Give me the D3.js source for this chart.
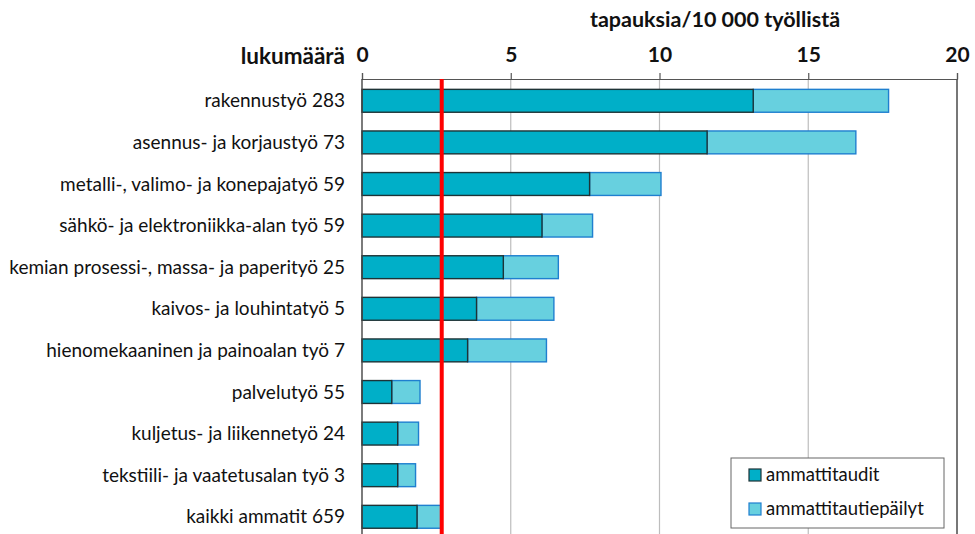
<!DOCTYPE html>
<html>
<head>
<meta charset="utf-8">
<script src="https://cdn.jsdelivr.net/npm/d3@7/dist/d3.min.js"></script>
<style>
  html, body { margin: 0; padding: 0; background: #fff; }
  svg { display: block; font-family: Lato, "Open Sans", sans-serif; }
</style>
</head>
<body>
<svg id="chart" width="975" height="534"></svg>
<script>
// Occupation groups and number of cases
const occupations = [
  "rakennustyö", "asennus- ja korjaustyö", "metalli-, valimo- ja konepajatyö",
  "sähkö- ja elektroniikka-alan työ", "kemian prosessi-, massa- ja paperityö",
  "kaivos- ja louhintatyö", "hienomekaaninen ja painoalan työ", "palvelutyö",
  "kuljetus- ja liikennetyö", "tekstiili- ja vaatetusalan työ", "kaikki ammatit"
];
const counts = [283, 73, 59, 59, 25, 5, 7, 55, 24, 3, 659];

// Cases per 10 000 employed
const ammattitaudit =       [13.15, 11.6, 7.65, 6.05, 4.75, 3.85, 3.55, 1.0, 1.2, 1.2, 1.85];
const ammattitautiepailyt = [4.55, 5.0, 2.4, 1.7, 1.85, 2.6, 2.65, 0.95, 0.7, 0.6, 0.83];

const seriesNames = ["ammattitaudit", "ammattitautiepäilyt"];
const xTicks = [0, 5, 10, 15, 20];
const referenceValue = 2.68; // all occupations total
const axisTitle = "tapauksia/10 000 työllistä";
const countTitle = "lukumäärä";

const fills = ["#00AFC8", "#67D0DF"];
const strokes = ["#1d3336", "#1f7fcf"];

const svg = d3.select("#chart");
const plotLeft = 362, plotRight = 957, plotTop = 79, plotBottom = 534;

const x = d3.scaleLinear().domain([0, 20]).range([plotLeft, plotRight]);
const y = d3.scaleBand()
  .domain(d3.range(occupations.length))
  .range([80, 80 + 41.6 * occupations.length])
  .paddingInner(0.45)
  .paddingOuter(0.225);

// vertical gridlines
svg.append("g")
  .selectAll("line")
  .data(xTicks.slice(1))
  .join("line")
  .attr("x1", d => x(d)).attr("x2", d => x(d))
  .attr("y1", plotTop).attr("y2", plotBottom)
  .attr("stroke", d => d === 20 ? "#555" : "#bdbdbd")
  .attr("stroke-width", d => d === 20 ? 1.6 : 1.2);

// top axis
const xAxis = d3.axisTop(x).tickValues(xTicks).tickSize(6).tickPadding(11);
const gx = svg.append("g").attr("transform", `translate(0,${plotTop})`).call(xAxis);
gx.select(".domain").attr("stroke", "#555").attr("stroke-width", 1.2);
gx.selectAll(".tick line").attr("stroke", "#555").attr("stroke-width", 1.2);
gx.selectAll(".tick text")
  .attr("font-size", 21).attr("font-weight", "bold").attr("fill", "#111")
  .attr("font-family", "Lato, sans-serif");

// stacked bars
const rows = occupations.map((o, i) => ({
  i,
  segs: [
    { s: 0, x0: 0, x1: ammattitaudit[i] },
    { s: 1, x0: ammattitaudit[i], x1: ammattitaudit[i] + ammattitautiepailyt[i] }
  ]
}));

const rowG = svg.append("g").selectAll("g").data(rows).join("g");
// light segments drawn first so the dark outline sits on top at the seam
rowG.selectAll("rect")
  .data(d => [d.segs[1], d.segs[0]].map(s => ({ ...s, i: d.i })))
  .join("rect")
  .attr("x", d => x(d.x0))
  .attr("y", d => y(d.i))
  .attr("width", d => x(d.x1) - x(d.x0))
  .attr("height", y.bandwidth())
  .attr("fill", d => fills[d.s])
  .attr("stroke", d => strokes[d.s])
  .attr("stroke-width", 1.4);

// left axis line
svg.append("line")
  .attr("x1", plotLeft).attr("x2", plotLeft)
  .attr("y1", plotTop).attr("y2", plotBottom)
  .attr("stroke", "#444").attr("stroke-width", 1.4);

// reference line
svg.append("line")
  .attr("x1", x(referenceValue)).attr("x2", x(referenceValue))
  .attr("y1", plotTop).attr("y2", plotBottom)
  .attr("stroke", "#FF0000").attr("stroke-width", 4);

// category labels
svg.append("g").selectAll("text")
  .data(occupations)
  .join("text")
  .attr("x", 345)
  .attr("y", (d, i) => y(i) + y.bandwidth() / 2)
  .attr("dy", "0.35em")
  .attr("text-anchor", "end")
  .attr("font-size", 19)
  .attr("fill", "#111")
  .text((d, i) => `${d} ${counts[i]}`);

// titles
svg.append("text")
  .attr("x", 345).attr("y", 64)
  .attr("text-anchor", "end")
  .attr("font-size", 22.5).attr("font-weight", "bold").attr("fill", "#111")
  .text(countTitle);

svg.append("text")
  .attr("x", 715).attr("y", 27)
  .attr("text-anchor", "middle")
  .attr("font-size", 21.5).attr("font-weight", "bold").attr("fill", "#111")
  .text(axisTitle);

// legend
const lg = svg.append("g").attr("transform", "translate(731,458)");
lg.append("rect")
  .attr("width", 213).attr("height", 70)
  .attr("fill", "#fff").attr("stroke", "#666").attr("stroke-width", 1);
seriesNames.forEach((name, k) => {
  const cy = 17 + k * 34;
  lg.append("rect")
    .attr("x", 18).attr("y", cy - 6)
    .attr("width", 12).attr("height", 12)
    .attr("fill", fills[k]).attr("stroke", strokes[k]).attr("stroke-width", 1.2);
  lg.append("text")
    .attr("x", 35).attr("y", cy)
    .attr("dy", "0.35em")
    .attr("font-size", 18.5).attr("fill", "#111")
    .text(name);
});
</script>
</body>
</html>
